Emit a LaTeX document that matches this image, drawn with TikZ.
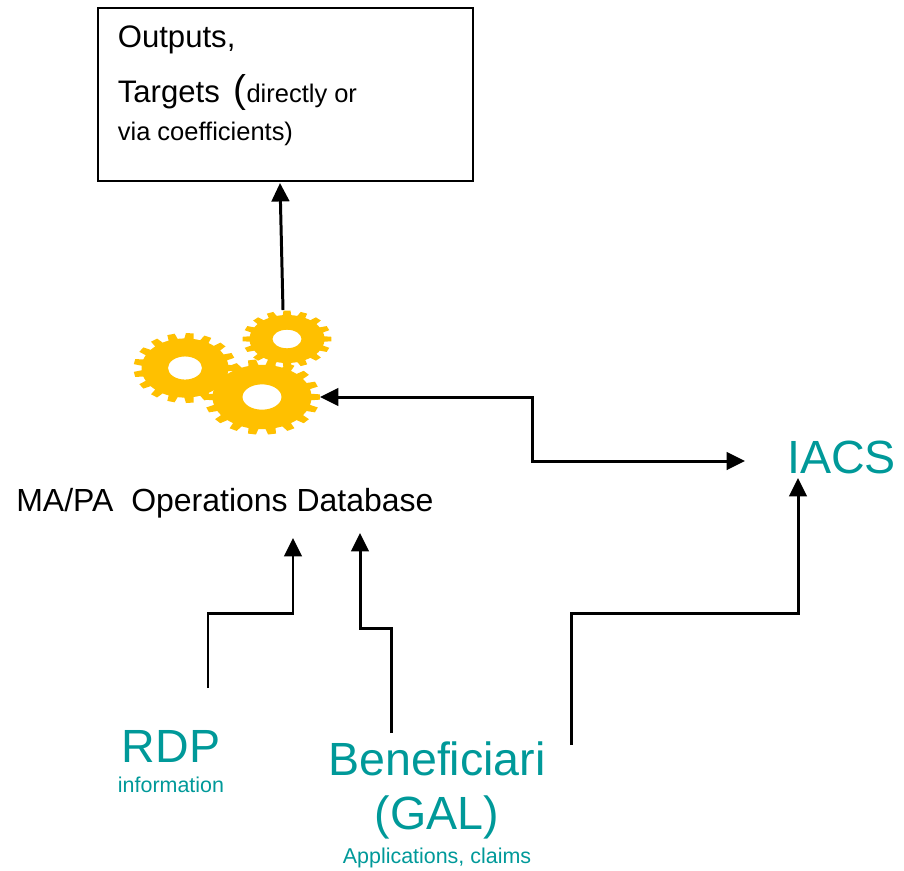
\documentclass[tikz,border=0pt]{standalone}
\usepackage{fontspec}
\setmainfont{Liberation Sans}
\usetikzlibrary{arrows.meta,positioning}
\definecolor{gearyellow}{HTML}{FFC000}
\definecolor{iacsteal}{HTML}{009999}
% gear wheel: x, y, outer r, inner r, hole r, teeth, yscale
\newcommand{\gearwheel}[7]{%
  \fill[gearyellow,even odd rule,shift={(#1,#2)},yscale=#7]
    ({-180/#6}:#4) \foreach \tth in {0,...,\numexpr#6-1\relax}{
      -- ({360/#6*(\tth-0.29)}:#4) -- ({360/#6*(\tth-0.2)}:#3)
      -- ({360/#6*(\tth+0.2)}:#3) -- ({360/#6*(\tth+0.29)}:#4)
      -- ({360/#6*(\tth+0.5)}:#4)} -- cycle
    (0,0) circle (#5);}

\begin{document}
\begin{tikzpicture}[>={Triangle[length=10.5pt,width=10pt]},
      flow/.style={draw=black,line width=1.7pt},
      lbl/.style={inner sep=0pt,anchor=base west,font=\fontsize{17.7}{20}\selectfont},
      tealbig/.style={inner sep=0pt,anchor=base,text=iacsteal,font=\fontsize{26.5}{30}\selectfont},
      tealsmall/.style={inner sep=0pt,anchor=base,text=iacsteal,font=\fontsize{12.2}{14}\selectfont}]
      \useasboundingbox (0,0) rectangle (18.08,-17.40);
      % output box
      \node[draw,line width=1.1pt,minimum width=7.5cm,minimum height=3.46cm,inner sep=0pt] (out) at (5.71,-1.89) {};
      \node[lbl] (outputs) at (2.35,-0.94) {Outputs,};
      \node[lbl] (targets) at (2.35,-2.04) {Targets\, {\fontsize{22}{22}\selectfont(}{\fontsize{14.5}{16}\selectfont directly or}};
      \node[lbl,font=\fontsize{14.5}{16}\selectfont] (coeff) at (2.35,-2.80) {via coefficients)};
      % gears
      \gearwheel{3.70}{-7.36}{1.03}{0.87}{0.34}{17}{0.68}
      \gearwheel{5.74}{-6.78}{0.89}{0.75}{0.29}{16}{0.64}
      \gearwheel{5.24}{-7.94}{1.16}{0.99}{0.39}{18}{0.65}
      % labels
      \node[lbl,font=\fontsize{18.2}{20}\selectfont] (db) at (0.32,-10.22) {MA/PA~~Operations Database};
      \node[tealbig,anchor=base west] (iacs) at (15.74,-9.46) {IACS};
      \node[tealbig] (rdp) at (3.42,-15.24) {RDP};
      \node[tealsmall] (rdpinfo) at (3.42,-15.84) {information};
      \node[tealbig] (benef) at (8.74,-15.50) {Beneficiari};
      \node[tealbig] (gal) at (8.74,-16.58) {(GAL)};
      \node[tealsmall] (claims) at (8.74,-17.26) {Applications, claims};
      % connector ends
      \coordinate (gtop) at (5.66,-6.20);
      \coordinate (outin) at (5.60,-3.66);
      \coordinate (gright) at (6.40,-7.94);
      \coordinate (iacsw) at (14.90,-9.22);
      \coordinate (iacss) at (15.96,-9.56);
      \coordinate (benout) at (11.42,-14.90);
      \coordinate (rdpout) at (4.16,-13.76);
      \coordinate (rdpin) at (5.86,-10.76);
      \coordinate (benin) at (7.82,-14.66);
      \coordinate (dbin) at (7.20,-10.66);
      % connectors
      \draw[flow,->] (gtop) -- (outin);
      \draw[flow,<->] (gright) -| (10.64,-9.22) -- (iacsw);
      \draw[flow,->] (benout) |- (15.96,-12.26) -- (iacss);
      \draw[flow,->] (rdpout) |- (5.86,-12.26) -- (rdpin);
      \draw[flow,->] (benin) |- (7.20,-12.56) -- (dbin);
    \end{tikzpicture}
\end{document}
